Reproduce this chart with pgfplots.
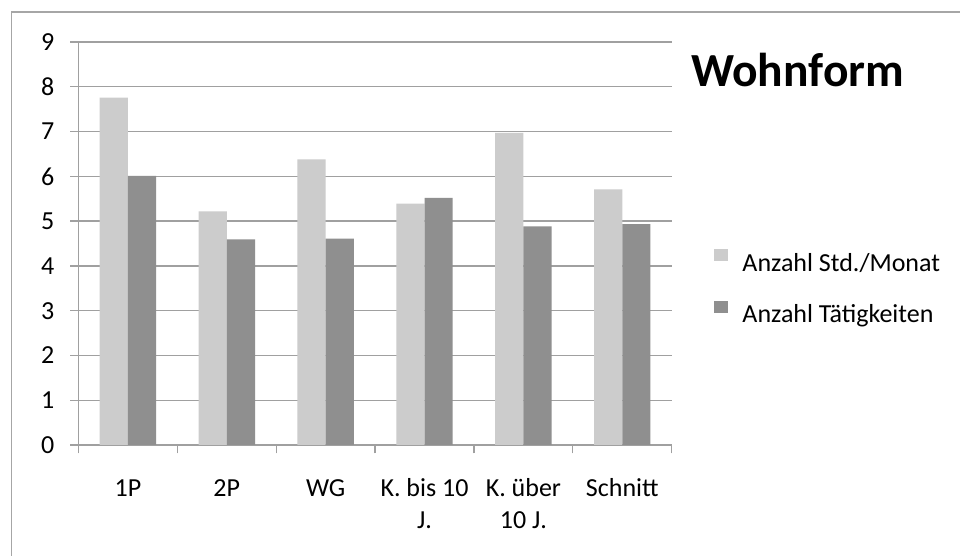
\documentclass[border=0pt]{standalone}
\usepackage{pgfplots}
\pgfplotsset{compat=1.18}
\usepackage{fontspec}
\setmainfont{Carlito}

\definecolor{barlight}{HTML}{CCCCCC}
\definecolor{bardark}{HTML}{8F8F8F}
\definecolor{gridgray}{HTML}{A0A0A0}
\definecolor{framegray}{HTML}{A6A6A6}
\newcommand{\lblfont}{\fontsize{26bp}{31.7bp}\selectfont}

\begin{document}
\begin{tikzpicture}[x=1bp,y=1bp]
\clip (0,0) rectangle (960,556);
\fill[white] (0,0) rectangle (960,556);
% chart frame (runs off the right and bottom edges)
\draw[framegray, line width=1.3bp] (11.5,544) rectangle (1000,-40);
\begin{axis}[
  at={(78.5bp,111bp)}, anchor=south west,
  scale only axis, width=593.2bp, height=403bp,
  xmin=-0.5, xmax=5.5, ymin=0, ymax=9,
  ytick={0,...,9},
  xtick={-0.5,0.5,...,5.5},
  x tick label as interval,
  xticklabels={\strut 1P,\strut 2P,\strut WG,{\strut K. bis 10\\J.},{\strut K. über\\10 J.},\strut Schnitt},
  axis x line*=bottom, axis y line*=left,
  axis line style={gridgray, line width=1.3bp, -},
  tick style={gridgray, line width=1.3bp},
  tick align=outside, major tick length=8.5bp,
  ymajorgrids, grid style={gridgray, line width=1.3bp},
  ybar=0pt, bar width=28.2bp,
  ticklabel style={font=\lblfont, text=black},
  /pgf/number format/assume math mode=true,
  xticklabel style={align=center, anchor=north, inner sep=0pt, yshift=-21bp},
  yticklabel style={anchor=east, inner sep=0pt, xshift=-15.5bp},
  legend style={draw=none, fill=none, font=\lblfont,
    at={(1.0662,0.4921)}, anchor=north west,
    nodes={inner sep=0pt}, column sep=14bp, row sep=28bp},
  legend cell align=left,
]
\addplot[fill=barlight, draw=none,
  legend image code/.code={\fill[barlight] (0bp,1.7bp) rectangle (14.3bp,14bp);}]
  coordinates {(0,7.76) (1,5.22) (2,6.38) (3,5.39) (4,6.97) (5,5.71)};
\addplot[fill=bardark, draw=none,
  legend image code/.code={\fill[bardark] (0bp,1.7bp) rectangle (14.3bp,14bp);}]
  coordinates {(0,6.01) (1,4.59) (2,4.61) (3,5.52) (4,4.88) (5,4.93)};
\legend{Anzahl Std./Monat, Anzahl Tätigkeiten}
\end{axis}
\node[anchor=base west, inner sep=0pt, font=\fontsize{47.5bp}{57bp}\selectfont\bfseries]
  at (691,469.3) {Wohnform};
\end{tikzpicture}
\end{document}
